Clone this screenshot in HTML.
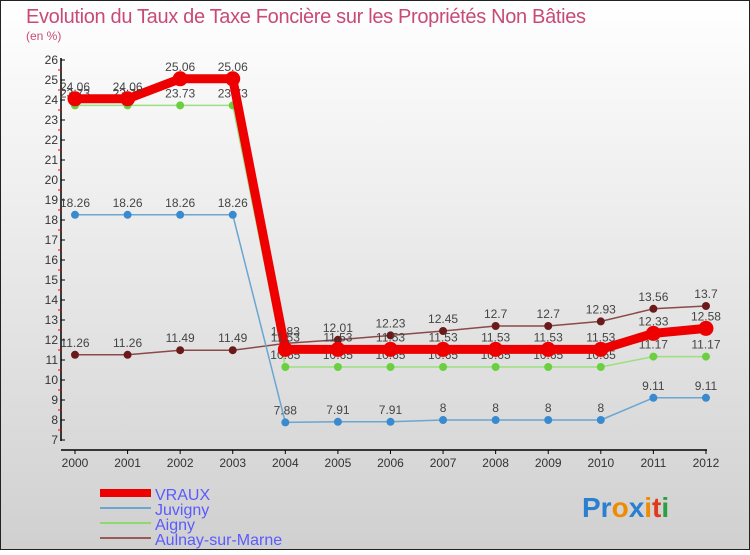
<!DOCTYPE html>
<html><head><meta charset="utf-8"><style>
body{margin:0}
#c{width:750px;height:550px;position:relative;font-family:"Liberation Sans",sans-serif}
</style></head><body>
<div id="c">
<svg id="s" width="750" height="550" xmlns="http://www.w3.org/2000/svg" font-family="Liberation Sans, sans-serif">
<defs><linearGradient id="bg" x1="0" y1="0" x2="0" y2="1"><stop offset="0" stop-color="#ffffff"/><stop offset="1" stop-color="#d0d0d0"/></linearGradient></defs>
<rect x="0.5" y="0.5" width="749" height="549" fill="url(#bg)" stroke="#222"/>
<text x="26" y="23" font-size="20" fill="#c84a78" textLength="560">Evolution du Taux de Taxe Foncière sur les Propriétés Non Bâties</text>
<text x="26" y="40" font-size="12" fill="#c84a78">(en %)</text>
<g id="axes"></g>
<g id="series"></g>
<g>
<rect x="100" y="489" width="51" height="8" fill="#e00"/>
<text x="155" y="500" font-size="16" fill="#5a5aff">VRAUX</text>
<line x1="100" y1="508" x2="151" y2="508" stroke="#6aa6d0" stroke-width="2"/>
<text x="155" y="515" font-size="16" fill="#5a5aff">Juvigny</text>
<line x1="100" y1="523" x2="151" y2="523" stroke="#8ed870" stroke-width="2"/>
<text x="155" y="530" font-size="16" fill="#5a5aff">Aigny</text>
<line x1="100" y1="538" x2="151" y2="538" stroke="#9a5a5a" stroke-width="2"/>
<text x="155" y="545" font-size="16" fill="#5a5aff">Aulnay-sur-Marne</text>
</g>
<text x="582" y="517" font-size="28" font-weight="bold"><tspan fill="#2a7fd0">Pr</tspan><tspan fill="#f08a00">o</tspan><tspan fill="#2a7fd0">x</tspan><tspan fill="#f08a00">i</tspan><tspan fill="#e03a1a">t</tspan><tspan fill="#2aa040">i</tspan></text>
</svg>
</div>
<script>
const years=["2000","2001","2002","2003","2004","2005","2006","2007","2008","2009","2010","2011","2012"];
const vraux=[24.06,24.06,25.06,25.06,11.53,11.53,11.53,11.53,11.53,11.53,11.53,12.33,12.58];
const juvigny=[18.26,18.26,18.26,18.26,7.88,7.91,7.91,8,8,8,8,9.11,9.11];
const aigny=[23.73,23.73,23.73,23.73,10.65,10.65,10.65,10.65,10.65,10.65,10.65,11.17,11.17];
const aulnay=[11.26,11.26,11.49,11.49,11.83,12.01,12.23,12.45,12.7,12.7,12.93,13.56,13.7];
const yTicks=[7,8,9,10,11,12,13,14,15,16,17,18,19,20,21,22,23,24,25,26];
const NS="http://www.w3.org/2000/svg";
const xS=i=>75+i*52.58;
const yS=v=>440-(v-7)*20;
function mk(t,a,p){const e=document.createElementNS(NS,t);for(const k in a)e.setAttribute(k,a[k]);p.appendChild(e);return e;}
const ax=document.getElementById('axes');
let l=mk('line',{x1:61,y1:58,x2:61,y2:441,stroke:'#000','stroke-width':1.5},ax);


l=mk('line',{x1:61,y1:450,x2:707,y2:450,stroke:'#000','stroke-width':1.5},ax);


yTicks.forEach(v=>{
 mk('line',{x1:61,y1:yS(v),x2:65,y2:yS(v),stroke:'#000'},ax);
 if(v<26)mk('line',{x1:58,y1:yS(v+0.5),x2:62,y2:yS(v+0.5),stroke:'#e00'},ax);
 const t=mk('text',{x:58,y:yS(v)+4,'font-size':12,'text-anchor':'end',fill:'#333'},ax);
 t.textContent=v;
 
 
});
years.forEach((y,i)=>{
 mk('line',{x1:xS(i),y1:450,x2:xS(i),y2:454,stroke:'#000'},ax);
 const t=mk('text',{x:xS(i),y:467,'font-size':12,'text-anchor':'middle',fill:'#333'},ax);
 t.textContent=y;
 
 
});
const sg=document.getElementById('series');
function draw(vals,name,col,fill,w,r){
 const g=mk('g',{},sg);
 
 
 const pl=mk('polyline',{points:vals.map((v,i)=>xS(i)+','+yS(v)).join(' '),fill:'none',stroke:col,'stroke-width':w,'stroke-linejoin':'round'},g);
 
 
 vals.forEach((v,i)=>{
  const c=mk('circle',{cx:xS(i),cy:yS(v),r:r,fill:fill},g);
  
  
  const t=mk('text',{x:xS(i),y:yS(v)-8,'font-size':12,'text-anchor':'middle',fill:'#444'},g);
  t.textContent=String(v);
  
  
 });
}
draw(aulnay,'aulnay','#8a4a4a','#6a1a1a',1.5,4);
draw(juvigny,'juvigny','#6aa6d0','#3a8ad0',1.5,4);
draw(aigny,'aigny','#9ae080','#6ad040',1.5,4);
draw(vraux,'vraux','#ee0000','#ee0000',9,7.5);
</script>
</body></html>
